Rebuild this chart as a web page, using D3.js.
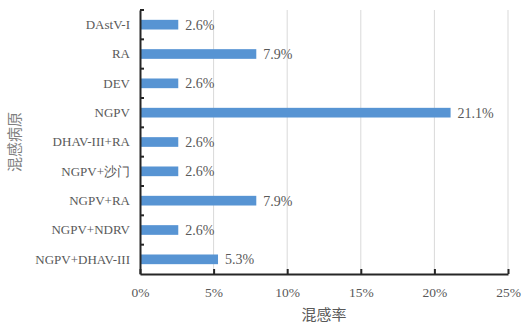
<!DOCTYPE html>
<html><head><meta charset="utf-8">
<script src="https://cdn.jsdelivr.net/npm/d3@7"></script>
<style>body{margin:0;background:#fff}svg{display:block}</style>
</head><body><svg id="c" width="527" height="333"></svg>
<script>
const categories = ["DAstV-I","RA","DEV","NGPV","DHAV-III+RA","NGPV+沙门","NGPV+RA","NGPV+NDRV","NGPV+DHAV-III"];
const values = [2.6,7.9,2.6,21.1,2.6,2.6,7.9,2.6,5.3];
const xTicks = [0,5,10,15,20,25];
const xTitle = "混感率";
const yTitle = "混感病原";

const SERIF = '"Liberation Serif"';
const CJK = '"Noto Sans CJK SC"';
const svg = d3.select("#c");
const m = {l:140, r:19, t:10, b:59};
const W = 527, H = 333;
const x = d3.scaleLinear().domain([0,25]).range([m.l, W-m.r]);
const y = d3.scaleBand().domain(categories).range([m.t, H-m.b]).paddingInner(0.67).paddingOuter(0.335);

svg.append("g").selectAll("line").data(xTicks.filter(d=>d>0)).join("line")
  .attr("x1",d=>x(d)).attr("x2",d=>x(d)).attr("y1",m.t).attr("y2",H-m.b)
  .attr("stroke","#d9d9d9").attr("stroke-width",1);

svg.append("g").selectAll("rect").data(values).join("rect")
  .attr("x",x(0)).attr("y",(d,i)=>y(categories[i]))
  .attr("width",d=>x(d)-x(0)).attr("height",y.bandwidth())
  .attr("fill","#5794d3");

svg.append("g").selectAll("text").data(values).join("text")
  .attr("x",d=>x(d)+7).attr("y",(d,i)=>y(categories[i])+y.bandwidth()/2)
  .attr("dy","0.35em").attr("fill","#595959")
  .style("font-family",SERIF).style("font-size","14px")
  .text(d=>d.toFixed(1)+"%");

const xa = svg.append("g").attr("transform",`translate(0,${H-m.b})`)
  .call(d3.axisBottom(x).tickValues(xTicks).tickFormat(d=>d+"%").tickSizeInner(-5).tickSizeOuter(0).tickPadding(13));
xa.select(".domain").attr("stroke","#262626").attr("stroke-width",2);
xa.selectAll(".tick line").attr("stroke","#262626").attr("stroke-width",2);
xa.selectAll("text").attr("fill","#595959").style("font-family",SERIF).style("font-size","13.5px");

const ya = svg.append("g").attr("transform",`translate(${m.l},0)`)
  .call(d3.axisLeft(y).tickSize(0).tickPadding(10));
ya.select(".domain").attr("stroke","#262626").attr("stroke-width",2);
ya.selectAll("text").attr("fill","#595959").style("font-family",SERIF).style("font-size","13px");
svg.append("g").selectAll("line").data(d3.range(categories.length)).join("line")
  .attr("x1",m.l).attr("x2",m.l+4)
  .attr("y1",i=>m.t+i*y.step()).attr("y2",i=>m.t+i*y.step())
  .attr("stroke","#262626").attr("stroke-width",2);

svg.append("text").attr("x",(x(0)+x(25))/2).attr("y",320).attr("text-anchor","middle")
  .attr("fill","#595959").style("font-family",CJK).style("font-size","15px").text(xTitle);
svg.append("text").attr("transform",`translate(20,${(m.t+H-m.b)/2}) rotate(-90)`).attr("text-anchor","middle")
  .attr("fill","#7f7f7f").style("font-family",CJK).style("font-size","15px").text(yTitle);
</script></body></html>
